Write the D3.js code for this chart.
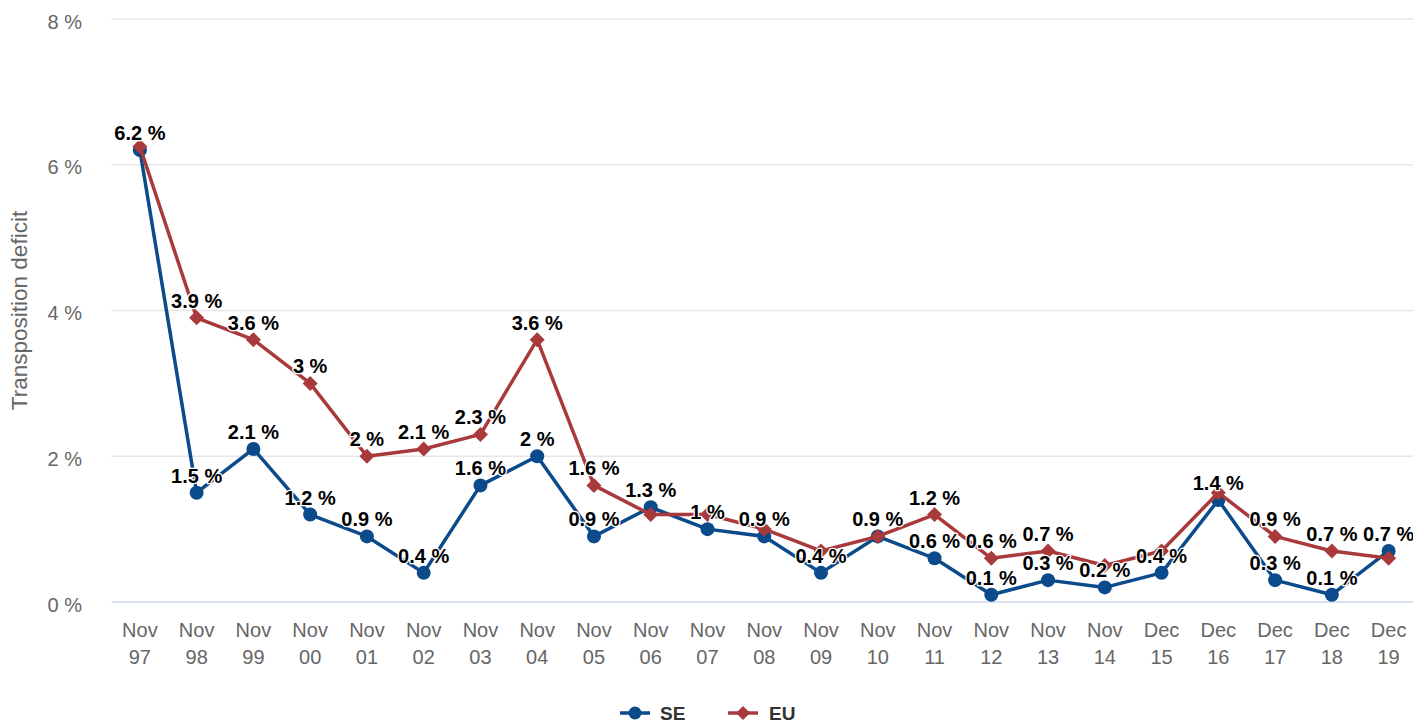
<!DOCTYPE html>
<html>
<head>
<meta charset="utf-8">
<script src="https://cdn.jsdelivr.net/npm/d3@7"></script>
<style>
  html, body { margin: 0; padding: 0; background: #fff; }
  svg { display: block; font-family: "Liberation Sans", Arial, sans-serif; }
</style>
</head>
<body>
<svg id="chart" width="1413" height="724"></svg>
<script>
const categories = ["Nov 97","Nov 98","Nov 99","Nov 00","Nov 01","Nov 02","Nov 03","Nov 04","Nov 05","Nov 06","Nov 07","Nov 08","Nov 09","Nov 10","Nov 11","Nov 12","Nov 13","Nov 14","Dec 15","Dec 16","Dec 17","Dec 18","Dec 19"];
const seValues = [6.2, 1.5, 2.1, 1.2, 0.9, 0.4, 1.6, 2, 0.9, 1.3, 1, 0.9, 0.4, 0.9, 0.6, 0.1, 0.3, 0.2, 0.4, 1.4, 0.3, 0.1, 0.7];
const euValues = [6.25, 3.9, 3.6, 3, 2, 2.1, 2.3, 3.6, 1.6, 1.2, 1.2, 1, 0.7, 0.9, 1.2, 0.6, 0.7, 0.5, 0.7, 1.5, 0.9, 0.7, 0.6];
const yTicks = [0, 2, 4, 6, 8];
const seriesNames = ["SE", "EU"];
const seriesColors = ["#0b4a8b", "#a83a3c"];
const yTitle = "Transposition deficit";

const svg = d3.select("#chart");
const W = 1413, H = 724;
const plot = { left: 111.5, right: 1417, top: 19, bottom: 602 };

const x = d3.scaleBand().domain(categories).range([plot.left, plot.right]);
const y = d3.scaleLinear().domain([0, 8]).range([plot.bottom, plot.top]);
const cx = c => x(c) + x.bandwidth() / 2;

// gridlines
svg.append("g").selectAll("line").data(yTicks.filter(t => t > 0)).join("line")
  .attr("x1", plot.left).attr("x2", W)
  .attr("y1", d => y(d)).attr("y2", d => y(d))
  .attr("stroke", "#e6e6e6").attr("stroke-width", 1.5);

// x axis line
svg.append("line").attr("x1", plot.left).attr("x2", W)
  .attr("y1", y(0)).attr("y2", y(0))
  .attr("stroke", "#ccd6eb").attr("stroke-width", 1.5);

// y tick labels
svg.append("g").selectAll("text").data(yTicks).join("text")
  .attr("x", 82).attr("y", d => y(d) + 9.5)
  .attr("text-anchor", "end").attr("fill", "#666666")
  .style("font-size", "20px")
  .text(d => d + " %");

// y title
svg.append("text")
  .attr("transform", `translate(27,${(plot.top + plot.bottom) / 2}) rotate(-90)`)
  .attr("text-anchor", "middle").attr("fill", "#666666")
  .style("font-size", "22.5px")
  .text(yTitle);

// x labels
const xl = svg.append("g").selectAll("text").data(categories).join("text")
  .attr("text-anchor", "middle").attr("fill", "#666666")
  .style("font-size", "20px");
xl.append("tspan").attr("x", d => cx(d)).attr("y", 637).text(d => d.split(" ")[0]);
xl.append("tspan").attr("x", d => cx(d)).attr("y", 664).text(d => d.split(" ")[1]);

const allSeries = [seValues, euValues];
const line = d3.line().x((d, i) => cx(categories[i])).y(d => y(d));
const diamond = r => `M0,${-r}L${r},0L0,${r}L${-r},0Z`;

allSeries.forEach((vals, s) => {
  const g = svg.append("g");
  g.append("path").attr("d", line(vals)).attr("fill", "none")
    .attr("stroke", seriesColors[s]).attr("stroke-width", 3.5)
    .attr("stroke-linejoin", "round");
  if (s === 0) {
    g.selectAll("circle").data(vals).join("circle")
      .attr("cx", (d, i) => cx(categories[i])).attr("cy", d => y(d))
      .attr("r", 7).attr("fill", seriesColors[s]);
  } else {
    g.selectAll("path.m").data(vals).join("path").attr("class", "m")
      .attr("transform", (d, i) => `translate(${cx(categories[i])},${y(d)})`)
      .attr("d", diamond(7.5)).attr("fill", seriesColors[s]);
  }
});

// data labels with overlap hiding (SE first, then EU)
const fmt = v => (Math.round(v * 10) / 10) + " %";
const placed = [];
const lblG = svg.append("g");
allSeries.forEach((vals, s) => {
  vals.forEach((v, i) => {
    const px = cx(categories[i]), py = y(v);
    const t = lblG.append("text")
      .attr("x", px).attr("y", py - 10)
      .attr("text-anchor", "middle")
      .attr("fill", "#000")
      .attr("stroke", "#fff").attr("stroke-width", 2.5)
      .attr("stroke-linejoin", "round")
      .attr("paint-order", "stroke")
      .style("font-size", "20px").style("font-weight", "bold")
      .text(fmt(v));
    const w = t.node().getComputedTextLength();
    const box = { x0: px - w / 2, x1: px + w / 2, y0: py - 17 - 13, y1: py - 17 + 13 };
    const hit = placed.some(b => b.x0 < box.x1 && box.x0 < b.x1 && b.y0 < box.y1 && box.y0 < b.y1);
    if (hit) t.remove(); else placed.push(box);
  });
});

// legend
const legendY = 713;
const legend = [
  { name: seriesNames[0], color: seriesColors[0], x0: 620, tx: 660, m: "c" },
  { name: seriesNames[1], color: seriesColors[1], x0: 728, tx: 769, m: "d" }
];
const lg = svg.append("g");
legend.forEach(l => {
  lg.append("line").attr("x1", l.x0).attr("x2", l.x0 + 30).attr("y1", legendY).attr("y2", legendY)
    .attr("stroke", l.color).attr("stroke-width", 3.5);
  if (l.m === "c") lg.append("circle").attr("cx", l.x0 + 15).attr("cy", legendY).attr("r", 6.5).attr("fill", l.color);
  else lg.append("path").attr("transform", `translate(${l.x0 + 15},${legendY})`).attr("d", diamond(7)).attr("fill", l.color);
  lg.append("text").attr("x", l.tx).attr("y", legendY + 6.5).attr("fill", "#333333")
    .style("font-size", "19px").style("font-weight", "bold").text(l.name);
});
</script>
</body>
</html>
